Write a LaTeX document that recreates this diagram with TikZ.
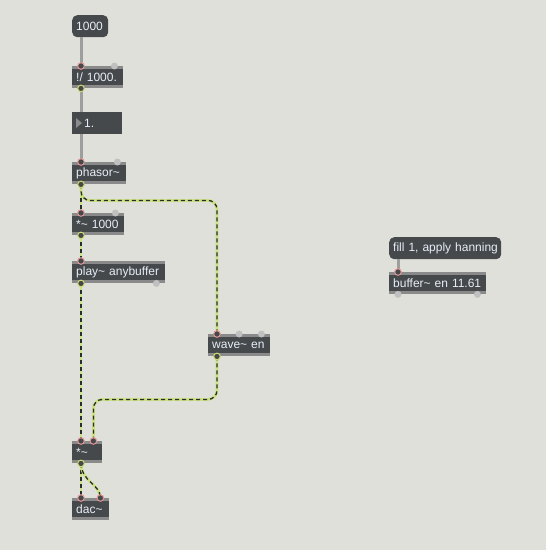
\documentclass[tikz,border=0pt]{standalone}
\usepackage{fontspec}
\setmainfont{Liberation Sans}
\usetikzlibrary{calc}
\definecolor{patchbg}{RGB}{224,224,218}
\definecolor{objbody}{RGB}{69,73,76}
\definecolor{objstrip}{RGB}{138,138,138}
\definecolor{objtext}{RGB}{232,238,248}
\definecolor{cordgrey}{RGB}{158,158,158}
\definecolor{siggreen}{RGB}{204,224,132}
\definecolor{sigdark}{RGB}{40,46,40}
\definecolor{inpink}{RGB}{228,150,150}
\definecolor{outgreen}{RGB}{204,218,112}
\definecolor{portgrey}{RGB}{192,192,192}
\newcommand{\tld}{\textasciitilde}
\tikzset{
    maxbox/.style={anchor=north west, rectangle, fill=objbody, text=objtext,
        font=\fontsize{12}{14}\selectfont, minimum height=22pt,
        inner xsep=4pt, inner ysep=0pt, align=left},
    maxobj/.style={maxbox, path picture={
        \fill[objstrip] (path picture bounding box.north west) rectangle ([yshift=-3pt]path picture bounding box.north east);
        \fill[objstrip] (path picture bounding box.south west) rectangle ([yshift=3pt]path picture bounding box.south east);}},
    maxmsg/.style={maxbox, rounded corners=5pt},
    ctrl/.style={draw=cordgrey, line width=3pt},
    sig/.style={draw=sigdark, line width=1.3pt, dash pattern=on 4pt off 3pt,
        preaction={draw=siggreen, line width=2.8pt, solid}},
    inport/.style={draw=inpink, line width=1pt, fill=objbody},
    outport/.style={draw=outgreen, line width=1pt, fill=objbody},
    offport/.style={fill=portgrey}
}
\begin{document}
\begin{tikzpicture}[x=1pt, y=-1pt]
        \fill[patchbg] (0,0) rectangle (546,550);
        \node[maxmsg, text width=28pt] (num) at (72,15) {1000};
        \node[maxobj, text width=43pt] (div) at (72,66) {!/ 1000.};
        \node[maxbox, text width=42pt] (flo) at (72,112) {\hspace{8pt}1.};
        \fill[objstrip] ([xshift=4pt,yshift=-6pt]flo.north west) -- ++(6,5) -- ++(-6,5) -- cycle;
        \node[maxobj, text width=46pt] (pha) at (72,162) {phasor\tld};
        \node[maxobj, text width=44pt] (mulk) at (72,213) {*\tld{} 1000};
        \node[maxobj, text width=85pt] (play) at (72,261) {play\tld{} anybuffer};
        \node[maxobj, text width=54pt] (wave) at (208,334) {wave\tld{} en};
        \node[maxobj, text width=22pt] (mul) at (72,441) {*\tld};
        \node[maxobj, text width=29pt] (dac) at (72,498) {dac\tld};
        \node[maxmsg, text width=104pt] (fill) at (389,237) {\mbox{fill 1, apply hanning}};
        \node[maxobj, text width=89pt] (buf) at (389,272) {buffer\tld{} en 11.61};
        \foreach \a/\b in {num/div, div/flo, flo/pha, fill/buf}{
        \draw[ctrl] ([xshift=9pt]\a.south west) -- ([xshift=9pt]\b.north west);
        }
        \foreach \a/\b in {pha/mulk, mulk/play, play/mul, mul/dac}{
        \draw[sig] ([xshift=9pt]\a.south west) -- ([xshift=9pt]\b.north west);
        }
        \draw[sig, rounded corners=9pt] ([xshift=9pt]pha.south west) -- ++(0,16) -| ([xshift=9pt]wave.north west);
        \draw[sig, rounded corners=9pt] ([xshift=9pt]wave.south west) -- ++(0,43) -| ([xshift=-9pt]mul.north east);
        \draw[sig] ([xshift=9pt]mul.south west) .. controls +(0,18) and +(0,-14) .. ([xshift=-9pt]dac.north east);
        \foreach \n in {div, pha, mulk, play, wave, mul, dac, buf}{
        \draw[inport] ([xshift=9pt]\n.north west) circle (3.3pt);
        }
        \draw[inport] ([xshift=-9pt]mul.north east) circle (3.3pt);
        \draw[inport] ([xshift=-9pt]dac.north east) circle (3.3pt);
        \foreach \n in {div, pha, mulk, play, wave, mul}{
        \draw[outport] ([xshift=9pt]\n.south west) circle (3.3pt);
        }
        \foreach \n in {div, pha, mulk, wave}{
        \fill[offport] ([xshift=-9pt]\n.north east) circle (3.5pt);
        }
        \fill[offport] (wave.north) circle (3.5pt);
        \fill[offport] ([xshift=-9pt]play.south east) circle (3.5pt);
        \fill[offport] ([xshift=9pt]buf.south west) circle (3.5pt);
        \fill[offport] ([xshift=-9pt]buf.south east) circle (3.5pt);
    \end{tikzpicture}
\end{document}
